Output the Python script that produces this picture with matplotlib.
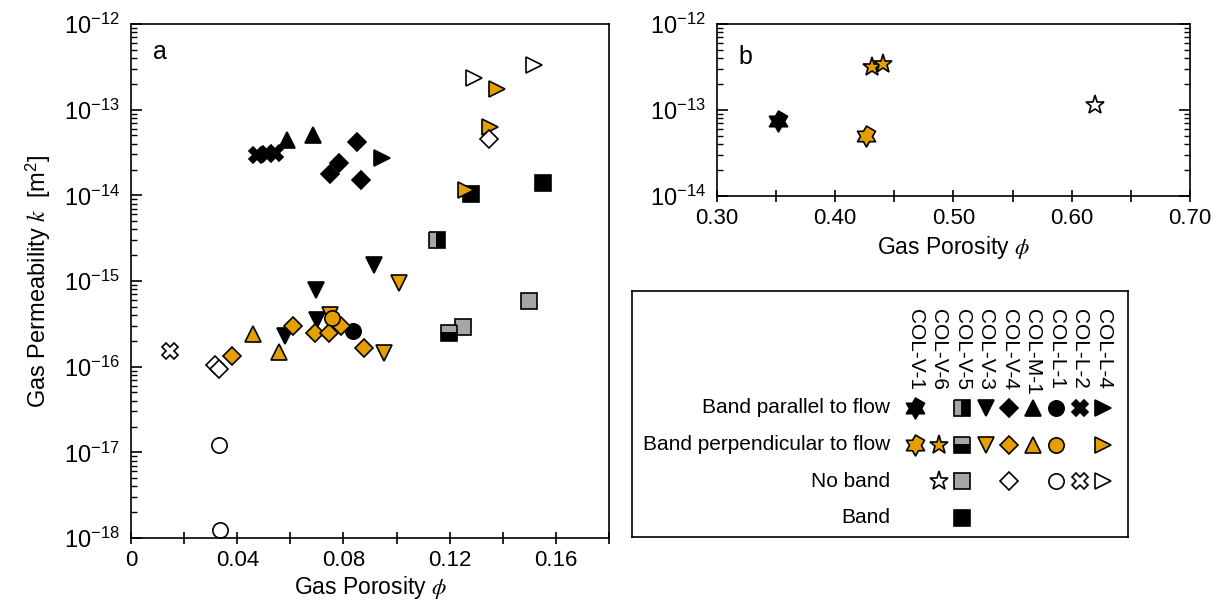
import numpy as np
import matplotlib
matplotlib.use('Agg')
import matplotlib.pyplot as plt
from matplotlib.path import Path
from matplotlib.ticker import MultipleLocator, FuncFormatter, FixedLocator, NullFormatter

plt.rcParams['font.family'] = ['Liberation Sans', 'DejaVu Sans']
plt.rcParams['mathtext.fontset'] = 'stix'
plt.rcParams['axes.unicode_minus'] = False

ORANGE = '#E69F00'
GRAY = '#A6A6A6'

# columns / rows of the key
samples = ['COL-V-1', 'COL-V-6', 'COL-V-5', 'COL-V-3', 'COL-V-4',
           'COL-M-1', 'COL-L-1', 'COL-L-2', 'COL-L-4']
conditions = ['Band parallel to flow', 'Band perpendicular to flow', 'No band', 'Band']

# panel a: gas porosity phi and gas permeability k [m^2]
v5_par_phi = [0.1153]
v5_par_k = [3.0e-15]
v5_perp_phi = [0.1197]
v5_perp_k = [2.46e-16]
v5_no_phi = [0.125, 0.150]
v5_no_k = [2.9e-16, 5.9e-16]
v5_band_phi = [0.1279, 0.155]
v5_band_k = [1.03e-14, 1.38e-14]
v3_par_phi = [0.0581, 0.0698, 0.0700, 0.0915]
v3_par_k = [2.25e-16, 7.9e-16, 3.5e-16, 1.55e-15]
v3_perp_phi = [0.0748, 0.0952, 0.1009]
v3_perp_k = [4.0e-16, 1.43e-16, 9.4e-16]
v4_par_phi = [0.0751, 0.0782, 0.0852, 0.0867]
v4_par_k = [1.76e-14, 2.4e-14, 4.2e-14, 1.51e-14]
v4_perp_phi = [0.038, 0.061, 0.0692, 0.0747, 0.0789, 0.0879]
v4_perp_k = [1.34e-16, 3.0e-16, 2.5e-16, 2.46e-16, 2.95e-16, 1.64e-16]
v4_no_phi = [0.0317, 0.0333, 0.1349]
v4_no_k = [1.05e-16, 9.4e-17, 4.6e-14]
m1_par_phi = [0.0587, 0.0686]
m1_par_k = [4.4e-14, 5.1e-14]
m1_perp_phi = [0.0459, 0.0556]
m1_perp_k = [2.4e-16, 1.5e-16]
l1_par_phi = [0.0835]
l1_par_k = [2.64e-16]
l1_perp_phi = [0.0757]
l1_perp_k = [3.7e-16]
l1_no_phi = [0.0332, 0.0336]
l1_no_k = [1.23e-17, 1.25e-18]
l2_par_phi = [0.0474, 0.0512, 0.0543]
l2_par_k = [2.96e-14, 3.0e-14, 3.1e-14]
l2_no_phi = [0.0147]
l2_no_k = [1.53e-16]
l4_par_phi = [0.0946]
l4_par_k = [2.71e-14]
l4_perp_phi = [0.126, 0.1351, 0.138]
l4_perp_k = [1.16e-14, 6.3e-14, 1.75e-13]
l4_no_phi = [0.129, 0.1516]
l4_no_k = [2.32e-13, 3.33e-13]

# panel b
v1_par_phi = [0.3516]
v1_par_k = [7.5e-14]
v1_perp_phi = [0.4264]
v1_perp_k = [4.99e-14]
v6_perp_phi = [0.4307, 0.4405]
v6_perp_k = [3.19e-13, 3.4e-13]
v6_no_phi = [0.6196]
v6_no_k = [1.14e-13]

series_a = [
    ('COL-V-5', 'Band parallel to flow', v5_par_phi, v5_par_k),
    ('COL-V-5', 'No band', v5_no_phi, v5_no_k),
    ('COL-V-5', 'Band perpendicular to flow', v5_perp_phi, v5_perp_k),
    ('COL-V-5', 'Band', v5_band_phi, v5_band_k),
    ('COL-L-4', 'Band parallel to flow', l4_par_phi, l4_par_k),
    ('COL-L-4', 'Band perpendicular to flow', l4_perp_phi, l4_perp_k),
    ('COL-L-4', 'No band', l4_no_phi, l4_no_k),
    ('COL-V-3', 'Band parallel to flow', v3_par_phi, v3_par_k),
    ('COL-M-1', 'Band parallel to flow', m1_par_phi, m1_par_k),
    ('COL-M-1', 'Band perpendicular to flow', m1_perp_phi, m1_perp_k),
    ('COL-V-4', 'Band parallel to flow', v4_par_phi, v4_par_k),
    ('COL-L-1', 'Band parallel to flow', l1_par_phi, l1_par_k),
    ('COL-V-4', 'Band perpendicular to flow', v4_perp_phi, v4_perp_k),
    ('COL-V-3', 'Band perpendicular to flow', v3_perp_phi, v3_perp_k),
    ('COL-L-1', 'Band perpendicular to flow', l1_perp_phi, l1_perp_k),
    ('COL-V-4', 'No band', v4_no_phi, v4_no_k),
    ('COL-L-1', 'No band', l1_no_phi, l1_no_k),
    ('COL-L-2', 'Band parallel to flow', l2_par_phi, l2_par_k),
    ('COL-L-2', 'No band', l2_no_phi, l2_no_k),
]
series_b = [
    ('COL-V-1', 'Band parallel to flow', v1_par_phi, v1_par_k),
    ('COL-V-1', 'Band perpendicular to flow', v1_perp_phi, v1_perp_k),
    ('COL-V-6', 'Band perpendicular to flow', v6_perp_phi, v6_perp_k),
    ('COL-V-6', 'No band', v6_no_phi, v6_no_k),
]

# six-pointed star (hexagram) marker
ang = np.pi / 2 + np.arange(12) * np.pi / 6
rad = np.where(np.arange(12) % 2 == 0, 1.0, 1 / np.sqrt(3))
hexagram = Path(np.column_stack([rad * np.cos(ang), rad * np.sin(ang)]), closed=True)

shapes = {'COL-V-1': hexagram, 'COL-V-6': '*', 'COL-V-5': 's', 'COL-V-3': 'v',
          'COL-V-4': 'D', 'COL-M-1': '^', 'COL-L-1': 'o', 'COL-L-2': 'X', 'COL-L-4': '>'}
sizes = {'COL-V-1': 15, 'COL-V-6': 14, 'COL-V-5': 11, 'COL-V-3': 12,
         'COL-V-4': 9, 'COL-M-1': 12, 'COL-L-1': 11, 'COL-L-2': 12, 'COL-L-4': 12}


def style(sample, cond):
    kw = dict(marker=shapes[sample], ms=sizes[sample], mec='black', mew=1.2, ls='none')
    if sample == 'COL-V-5' and cond == 'Band parallel to flow':
        kw.update(mfc=GRAY, mfcalt='black', fillstyle='left')
    elif sample == 'COL-V-5' and cond == 'Band perpendicular to flow':
        kw.update(mfc=GRAY, mfcalt='black', fillstyle='top')
    elif sample == 'COL-V-5' and cond == 'No band':
        kw.update(mfc=GRAY)
    elif cond in ('Band parallel to flow', 'Band'):
        kw.update(mfc='black')
    elif cond == 'Band perpendicular to flow':
        kw.update(mfc=ORANGE)
    else:
        kw.update(mfc='white')
    return kw


def log_ticks(axis, lo, hi):
    decades = np.arange(lo, hi + 1)
    axis.set_major_locator(FixedLocator(10.0 ** decades))
    minors = [m * 10.0 ** d for d in decades[:-1] for m in range(2, 10)]
    axis.set_minor_locator(FixedLocator(minors))
    axis.set_minor_formatter(NullFormatter())
    axis.set_major_formatter(FuncFormatter(
        lambda v, p: r'$\mathdefault{10^{%d}}$' % round(np.log10(v))))


fig = plt.figure(figsize=(12.26, 6.12), dpi=100)

# ---- panel a
ax = fig.add_axes([0.1069, 0.1209, 0.3898, 0.8399])
for s, c, x, y in series_a:
    ax.plot(x, y, **style(s, c))
ax.set_yscale('log')
ax.set_xlim(0, 0.18)
ax.set_ylim(1e-18, 1e-12)
ax.xaxis.set_major_locator(MultipleLocator(0.04))
ax.xaxis.set_minor_locator(MultipleLocator(0.02))
ax.xaxis.set_major_formatter(FuncFormatter(lambda v, p: '0' if abs(v) < 1e-9 else f'{v:.2f}'))
log_ticks(ax.yaxis, -18, -12)
ax.tick_params(axis='x', which='both', direction='inout', length=9, width=1.2, labelsize=16, pad=4)
ax.tick_params(axis='y', which='major', direction='in', length=8, width=1.2, labelsize=17, pad=8)
ax.tick_params(axis='y', which='minor', direction='in', length=4, width=1.0)
ax.set_xlabel(r'Gas Porosity $\phi$', fontsize=16.5, labelpad=2)
ax.set_ylabel(r'Gas Permeability $k$  [m$^{\mathdefault{2}}$]', fontsize=17, labelpad=8)
ax.text(0.045, 0.945, 'a', transform=ax.transAxes, fontsize=18, va='center')
for sp in ax.spines.values():
    sp.set_linewidth(1.2)

# ---- panel b
bx = fig.add_axes([0.5848, 0.6797, 0.3858, 0.2811])
for s, c, x, y in series_b:
    bx.plot(x, y, **style(s, c))
bx.set_yscale('log')
bx.set_xlim(0.30, 0.70)
bx.set_ylim(1e-14, 1e-12)
bx.xaxis.set_major_locator(MultipleLocator(0.1))
bx.xaxis.set_minor_locator(MultipleLocator(0.05))
bx.xaxis.set_major_formatter(FuncFormatter(lambda v, p: f'{v:.2f}'))
log_ticks(bx.yaxis, -14, -12)
bx.tick_params(axis='x', which='both', direction='inout', length=9, width=1.2, labelsize=16, pad=4)
bx.tick_params(axis='y', which='major', direction='in', length=8, width=1.2, labelsize=17, pad=8, right=True)
bx.tick_params(axis='y', which='minor', direction='in', length=4, width=1.0, right=True)
bx.set_xlabel(r'Gas Porosity $\phi$', fontsize=16.5, labelpad=4)
bx.text(0.045, 0.81, 'b', transform=bx.transAxes, fontsize=18, va='center')
for sp in bx.spines.values():
    sp.set_linewidth(1.2)

# ---- key box: columns are samples, rows are conditions
kx = fig.add_axes([0.5155, 0.1225, 0.4046, 0.402])
kx.set_xlim(-12.04, 9.06)
kx.set_ylim(3.53, -3.2)
kx.set_xticks([])
kx.set_yticks([])
for sp in kx.spines.values():
    sp.set_linewidth(1.2)
for s, c, x, y in series_a + series_b:
    kx.plot(samples.index(s), conditions.index(c), **style(s, c))
for i, s in enumerate(samples):
    kx.text(i, -2.72, s, rotation=-90, ha='center', va='top', fontsize=15)
for j, c in enumerate(conditions):
    kx.text(-1.05, j, c, ha='right', va='center', fontsize=15)

fig.savefig('out.png', dpi=100)
